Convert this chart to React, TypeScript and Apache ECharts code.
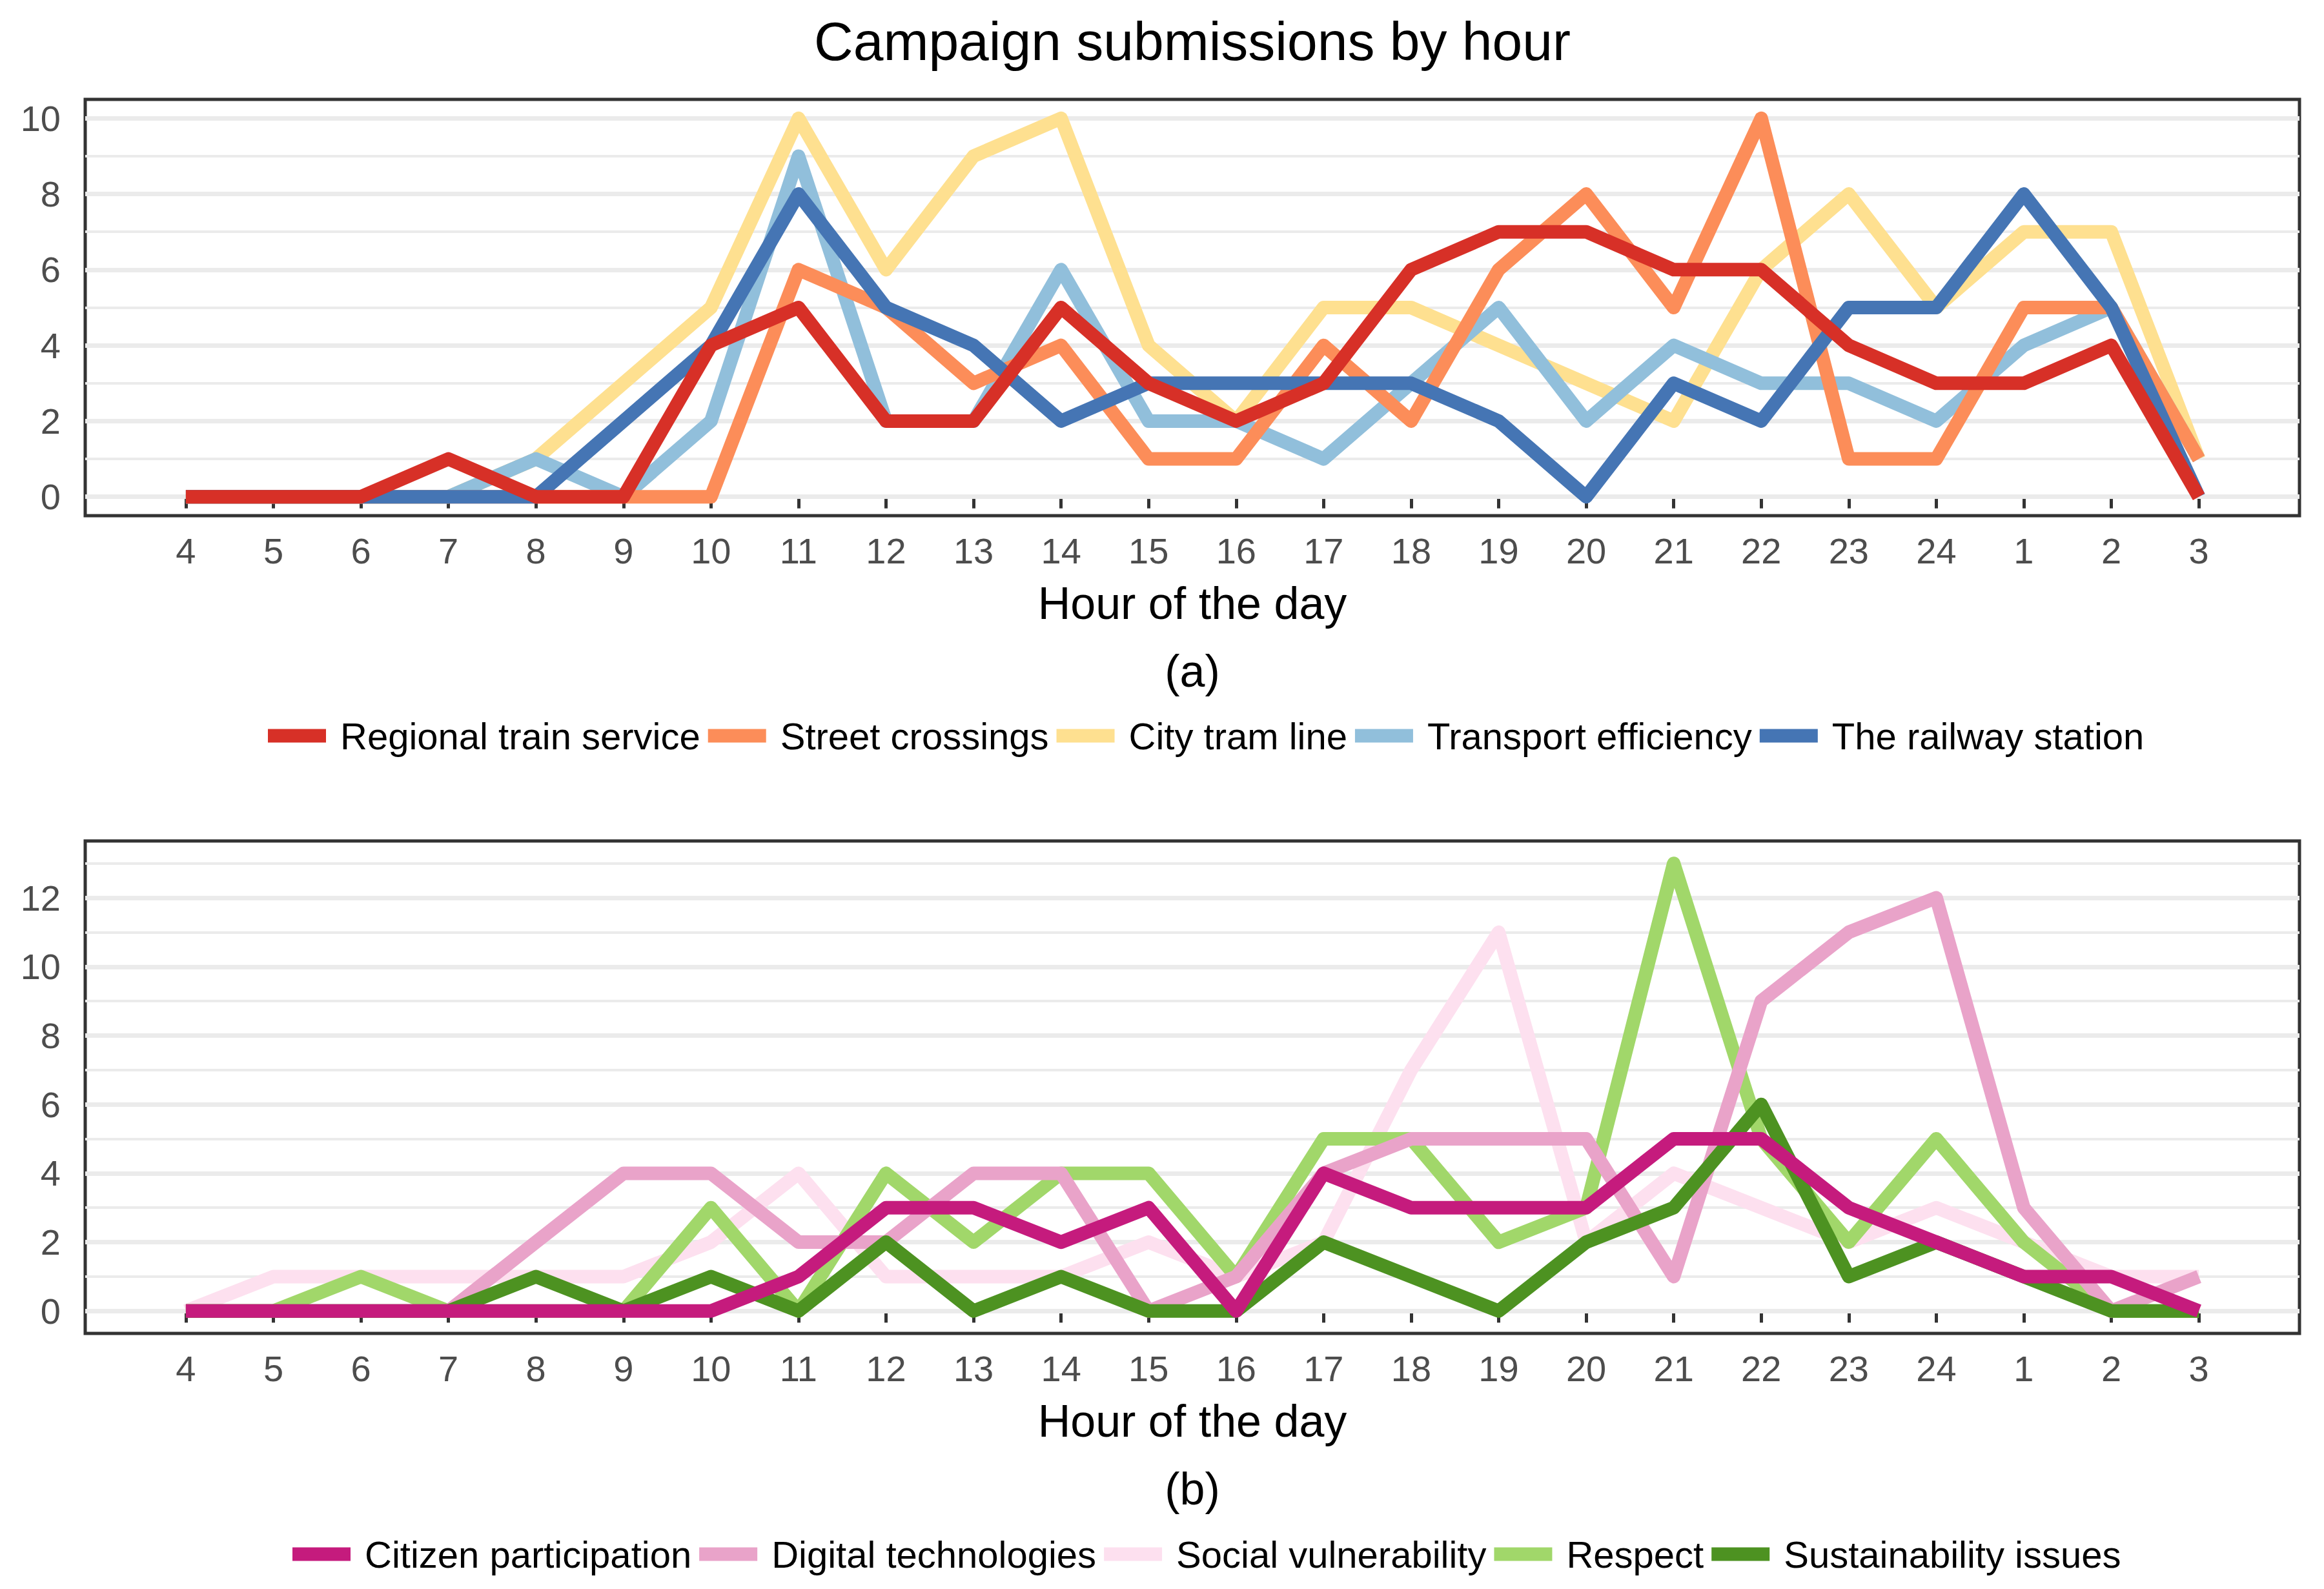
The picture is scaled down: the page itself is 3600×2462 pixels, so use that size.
import React, { useEffect, useRef } from 'react';
import * as echarts from 'echarts';

// ---------- data ----------
const HOURS = ['4', '5', '6', '7', '8', '9', '10', '11', '12', '13', '14', '15', '16', '17', '18', '19', '20', '21', '22', '23', '24', '1', '2', '3'];

const TOP_NAMES = ['Regional train service', 'Street crossings', 'City tram line', 'Transport efficiency', 'The railway station'];
const regional = [0, 0, 0, 1, 0, 0, 4, 5, 2, 2, 5, 3, 2, 3, 6, 7, 7, 6, 6, 4, 3, 3, 4, 0];
const street = [0, 0, 0, 0, 0, 0, 0, 6, 5, 3, 4, 1, 1, 4, 2, 6, 8, 5, 10, 1, 1, 5, 5, 1];
const tram = [0, 0, 0, 0, 1, 3, 5, 10, 6, 9, 10, 4, 2, 5, 5, 4, 3, 2, 6, 8, 5, 7, 7, 1];
const transport = [0, 0, 0, 0, 1, 0, 2, 9, 2, 2, 6, 2, 2, 1, 3, 5, 2, 4, 3, 3, 2, 4, 5, 1];
const railway = [0, 0, 0, 0, 0, 2, 4, 8, 5, 4, 2, 3, 3, 3, 3, 2, 0, 3, 2, 5, 5, 8, 5, 0];

const BOT_NAMES = ['Citizen participation', 'Digital technologies', 'Social vulnerability', 'Respect', 'Sustainability issues'];
const citizen = [0, 0, 0, 0, 0, 0, 0, 1, 3, 3, 2, 3, 0, 4, 3, 3, 3, 5, 5, 3, 2, 1, 1, 0];
const digital = [0, 0, 0, 0, 2, 4, 4, 2, 2, 4, 4, 0, 1, 4, 5, 5, 5, 1, 9, 11, 12, 3, 0, 1];
const social = [0, 1, 1, 1, 1, 1, 2, 4, 1, 1, 1, 2, 1, 2, 7, 11, 2, 4, 3, 2, 3, 2, 1, 1];
const respect = [0, 0, 1, 0, 0, 0, 3, 0, 4, 2, 4, 4, 1, 5, 5, 2, 3, 13, 5, 2, 5, 2, 0, 0];
const sustain = [0, 0, 0, 0, 1, 0, 1, 0, 2, 0, 1, 0, 0, 2, 1, 0, 2, 3, 6, 1, 2, 1, 0, 0];

const TOP_Y_LABELS = [0, 2, 4, 6, 8, 10];
const TOP_GRID_LINES = [0, 1, 2, 3, 4, 5, 6, 7, 8, 9, 10];
const BOT_Y_LABELS = [0, 2, 4, 6, 8, 10, 12];
const BOT_GRID_LINES = [0, 1, 2, 3, 4, 5, 6, 7, 8, 9, 10, 11, 12, 13];

const TITLE = 'Campaign submissions by hour';
const X_TITLE = 'Hour of the day';

// ---------- styles ----------
const TOP_COLORS = ['#D73027', '#FC8D59', '#FEE090', '#91BFDB', '#4575B4'];
const TOP_Z = [7, 5, 3, 4, 6];
const BOT_COLORS = ['#C51B7D', '#E9A3C9', '#FDE0EF', '#A1D76A', '#4D9221'];
const BOT_Z = [7, 5, 3, 4, 6];

const FONT = "'Liberation Sans', Arial, Helvetica, sans-serif";
const W = 3600;
const H = 2462;
const PLOT_LEFT = 132;
const PLOT_W = 3430;
const CX = PLOT_LEFT + PLOT_W / 2;
const TOP_GRID = { top: 154, height: 645 };
const BOT_GRID = { top: 1303, height: 763 };

const IDX = HOURS.map((_, i) => i);

function xAxisCfg(gridIndex: number) {
  return {
    type: 'value',
    gridIndex,
    min: -1.15,
    max: 24.15,
    axisLine: { show: false },
    splitLine: { show: false },
    axisTick: { show: true, length: 18, inside: false, customValues: IDX, lineStyle: { color: '#333333', width: 5 } },
    axisLabel: {
      show: true,
      customValues: IDX,
      formatter: (v: number) => HOURS[Math.round(v)] ?? '',
      fontSize: 56,
      color: '#4D4D4D',
      fontFamily: FONT,
      margin: 54,
      verticalAlign: 'middle',
    },
  };
}

function yAxisCfg(gridIndex: number, min: number, max: number, labels: number[]) {
  return {
    type: 'value',
    gridIndex,
    min,
    max,
    axisLine: { show: false },
    splitLine: { show: false },
    axisTick: { show: true, length: 17, inside: false, customValues: labels, lineStyle: { color: '#333333', width: 5 } },
    axisLabel: {
      show: true,
      customValues: labels,
      fontSize: 56,
      color: '#4D4D4D',
      fontFamily: FONT,
      margin: 38,
      align: 'right',
      verticalAlign: 'middle',
    },
  };
}

function gridSeries(axisIndex: number, lines: number[]) {
  return {
    type: 'line',
    name: '__grid' + axisIndex,
    xAxisIndex: axisIndex,
    yAxisIndex: axisIndex,
    data: [],
    silent: true,
    z: 1,
    markLine: {
      silent: true,
      z: 1,
      animation: false,
      symbol: ['none', 'none'],
      label: { show: false },
      emphasis: { disabled: true },
      data: lines.map((v) => ({
        yAxis: v,
        lineStyle: { color: '#EBEBEB', width: v % 2 === 0 ? 7 : 4, type: 'solid' },
      })),
    },
  };
}

function lineSeries(name: string, values: number[], color: string, z: number, axisIndex: number) {
  return {
    type: 'line',
    name,
    xAxisIndex: axisIndex,
    yAxisIndex: axisIndex,
    data: values.map((v, i) => [i, v]),
    showSymbol: false,
    symbol: 'none',
    color,
    itemStyle: { color },
    lineStyle: { color, width: 21, join: 'round', cap: 'butt' },
    z,
    silent: true,
    emphasis: { disabled: true },
  };
}

function legendCfg(names: string[], colors: string[], left: number, top: number) {
  return {
    data: names.map((n, i) => ({ name: n, itemStyle: { color: colors[i] } })),
    left,
    top,
    orient: 'horizontal',
    icon: 'rect',
    itemWidth: 90,
    itemHeight: 21,
    itemGap: 12,
    padding: 0,
    selectedMode: false,
    textStyle: { fontSize: 58, color: '#000000', fontFamily: FONT, padding: [0, 0, 0, 17] },
  };
}

function textEl(text: string, x: number, y: number, size: number) {
  return {
    type: 'text',
    x,
    y,
    silent: true,
    style: { text, fontSize: size, fill: '#000000', fontFamily: FONT, align: 'center', verticalAlign: 'middle' },
  };
}

export default function App() {
  const ref = useRef<HTMLDivElement>(null);

  useEffect(() => {
    document.body.style.margin = '0';
    if (!ref.current) return;
    const chart = echarts.init(ref.current, undefined, { renderer: 'svg', width: W, height: H });
    const topValues = [regional, street, tram, transport, railway];
    const botValues = [citizen, digital, social, respect, sustain];

    const topBottom = TOP_GRID.top + TOP_GRID.height;
    const botBottom = BOT_GRID.top + BOT_GRID.height;

    chart.setOption({
      animation: false,
      backgroundColor: '#FFFFFF',
      grid: [
        { left: PLOT_LEFT, top: TOP_GRID.top, width: PLOT_W, height: TOP_GRID.height, show: true, borderColor: '#333333', borderWidth: 5, backgroundColor: 'transparent', containLabel: false },
        { left: PLOT_LEFT, top: BOT_GRID.top, width: PLOT_W, height: BOT_GRID.height, show: true, borderColor: '#333333', borderWidth: 5, backgroundColor: 'transparent', containLabel: false },
      ],
      xAxis: [xAxisCfg(0), xAxisCfg(1)],
      yAxis: [yAxisCfg(0, -0.5, 10.5, TOP_Y_LABELS), yAxisCfg(1, -0.65, 13.65, BOT_Y_LABELS)],
      legend: [
        legendCfg(TOP_NAMES, TOP_COLORS, 415, topBottom + 341 - 29),
        legendCfg(BOT_NAMES, BOT_COLORS, 453, botBottom + 342 - 29),
      ],
      series: [
        gridSeries(0, TOP_GRID_LINES),
        gridSeries(1, BOT_GRID_LINES),
        ...TOP_NAMES.map((n, i) => lineSeries(n, topValues[i], TOP_COLORS[i], TOP_Z[i], 0)),
        ...BOT_NAMES.map((n, i) => lineSeries(n, botValues[i], BOT_COLORS[i], BOT_Z[i], 1)),
      ],
      graphic: [
        textEl(TITLE, CX, 64, 84),
        textEl(X_TITLE, CX, topBottom + 136, 70),
        textEl('(a)', CX, topBottom + 241, 70),
        textEl(X_TITLE, CX, botBottom + 136, 70),
        textEl('(b)', CX, botBottom + 241, 70),
      ],
    });

    return () => {
      chart.dispose();
    };
  }, []);

  return <div ref={ref} style={{ width: W, height: H, position: 'absolute', left: 0, top: 0, background: '#fff' }} />;
}
